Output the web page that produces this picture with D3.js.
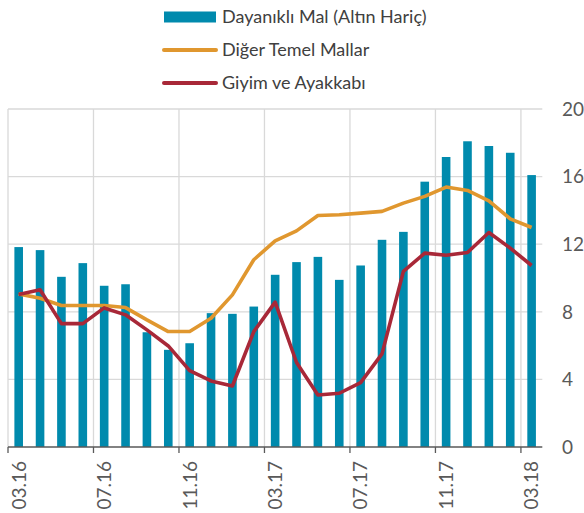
<!DOCTYPE html>
<html><head><meta charset="utf-8">
<script src="https://cdn.jsdelivr.net/npm/d3@7"></script>
<style>body{margin:0;background:#fff}svg{display:block}</style>
</head><body>
<svg id="c" width="584" height="513"></svg>
<script>
const months = ["03.16","04.16","05.16","06.16","07.16","08.16","09.16","10.16","11.16","12.16","01.17","02.17","03.17","04.17","05.17","06.17","07.17","08.17","09.17","10.17","11.17","12.17","01.18","02.18","03.18"];
const tickLabels = ["03.16","07.16","11.16","03.17","07.17","11.17","03.18"];
const yTicks = [0,4,8,12,16,20];
const durable = [11.83,11.65,10.07,10.88,9.54,9.63,6.79,5.75,6.14,7.92,7.88,8.31,10.19,10.94,11.25,9.89,10.74,12.26,12.73,15.70,17.16,18.09,17.81,17.41,16.09];
const otherCore = [9.06,8.8,8.37,8.37,8.37,8.25,7.52,6.83,6.83,7.62,9.0,11.08,12.2,12.79,13.7,13.74,13.84,13.94,14.43,14.83,15.38,15.18,14.57,13.5,12.99];
const clothing = [9.02,9.3,7.3,7.3,8.23,7.82,6.93,5.98,4.52,3.91,3.61,6.83,8.57,5.0,3.08,3.18,3.81,5.51,10.39,11.47,11.35,11.51,12.69,11.77,10.74];
const seriesNames = ["Dayanıklı Mal (Altın Hariç)","Diğer Temel Mallar","Giyim ve Ayakkabı"];
const colors = ["#008aad","#e0972f","#a82838"];

const font = "Lato, 'Open Sans', sans-serif";
const svg = d3.select("#c");
const x = d3.scaleBand().domain(months).range([8, 542.3]).padding(0);
const y = d3.scaleLinear().domain([0,20]).range([447,109]);
const cx = m => x(m) + x.bandwidth()/2;

// grid
const g = svg.append("g");
g.selectAll(".hg").data(yTicks.filter(v=>v>0)).join("line")
  .attr("x1",8).attr("x2",542.3).attr("y1",d=>y(d)).attr("y2",d=>y(d))
  .attr("stroke","#d9d9d9").attr("stroke-width",1.3);
g.selectAll(".vg").data(tickLabels).join("line")
  .attr("x1",d=>x(d)).attr("x2",d=>x(d)).attr("y1",y(20)).attr("y2",y(0))
  .attr("stroke","#d9d9d9").attr("stroke-width",1.3);

// bars
svg.append("g").selectAll("rect").data(durable).join("rect")
  .attr("x",(d,i)=>cx(months[i])-4.3).attr("width",8.6)
  .attr("y",d=>y(d)).attr("height",d=>y(0)-y(d))
  .attr("fill",colors[0]);

// lines
const line = d3.line().x((d,i)=>cx(months[i])).y(d=>y(d));
svg.append("path").datum(otherCore).attr("d",line).attr("fill","none")
  .attr("stroke",colors[1]).attr("stroke-width",3.6).attr("stroke-linejoin","round");
svg.append("path").datum(clothing).attr("d",line).attr("fill","none")
  .attr("stroke",colors[2]).attr("stroke-width",3.6).attr("stroke-linejoin","round");

// x axis
const xa = svg.append("g").attr("transform",`translate(0,${y(0)})`);
xa.append("line").attr("x1",8).attr("x2",542.3).attr("stroke","#595959").attr("stroke-width",1.3);
xa.selectAll(".tk").data(tickLabels).join("line")
  .attr("x1",d=>x(d)).attr("x2",d=>x(d)).attr("y1",0).attr("y2",6)
  .attr("stroke","#595959").attr("stroke-width",1.3);
xa.selectAll("text").data(tickLabels).join("text")
  .attr("transform",d=>`translate(${cx(d)},14) rotate(-90)`)
  .attr("text-anchor","end").attr("dy","0.36em")
  .attr("font-family",font).attr("font-size",19).attr("fill","#595959")
  .text(d=>d);

// y axis labels (right)
svg.append("g").selectAll("text").data(yTicks).join("text")
  .attr("x",562).attr("y",d=>y(d)).attr("dy","0.36em")
  .attr("font-family",font).attr("font-size",19).attr("fill","#595959")
  .text(d=>d);

// legend
const lg = svg.append("g");
const ly = [17,50,83];
lg.append("rect").attr("x",164).attr("y",ly[0]-5.5).attr("width",52).attr("height",11).attr("fill",colors[0]);
[1,2].forEach(i=>{
  lg.append("line").attr("x1",164).attr("x2",216).attr("y1",ly[i]).attr("y2",ly[i])
    .attr("stroke",colors[i]).attr("stroke-width",4).attr("stroke-linecap","round");
});
lg.selectAll("text").data(seriesNames).join("text")
  .attr("x",222).attr("y",(d,i)=>ly[i]).attr("dy","0.36em")
  .attr("font-family",font).attr("font-size",18).attr("fill","#404040")
  .text(d=>d);
</script>
</body></html>
